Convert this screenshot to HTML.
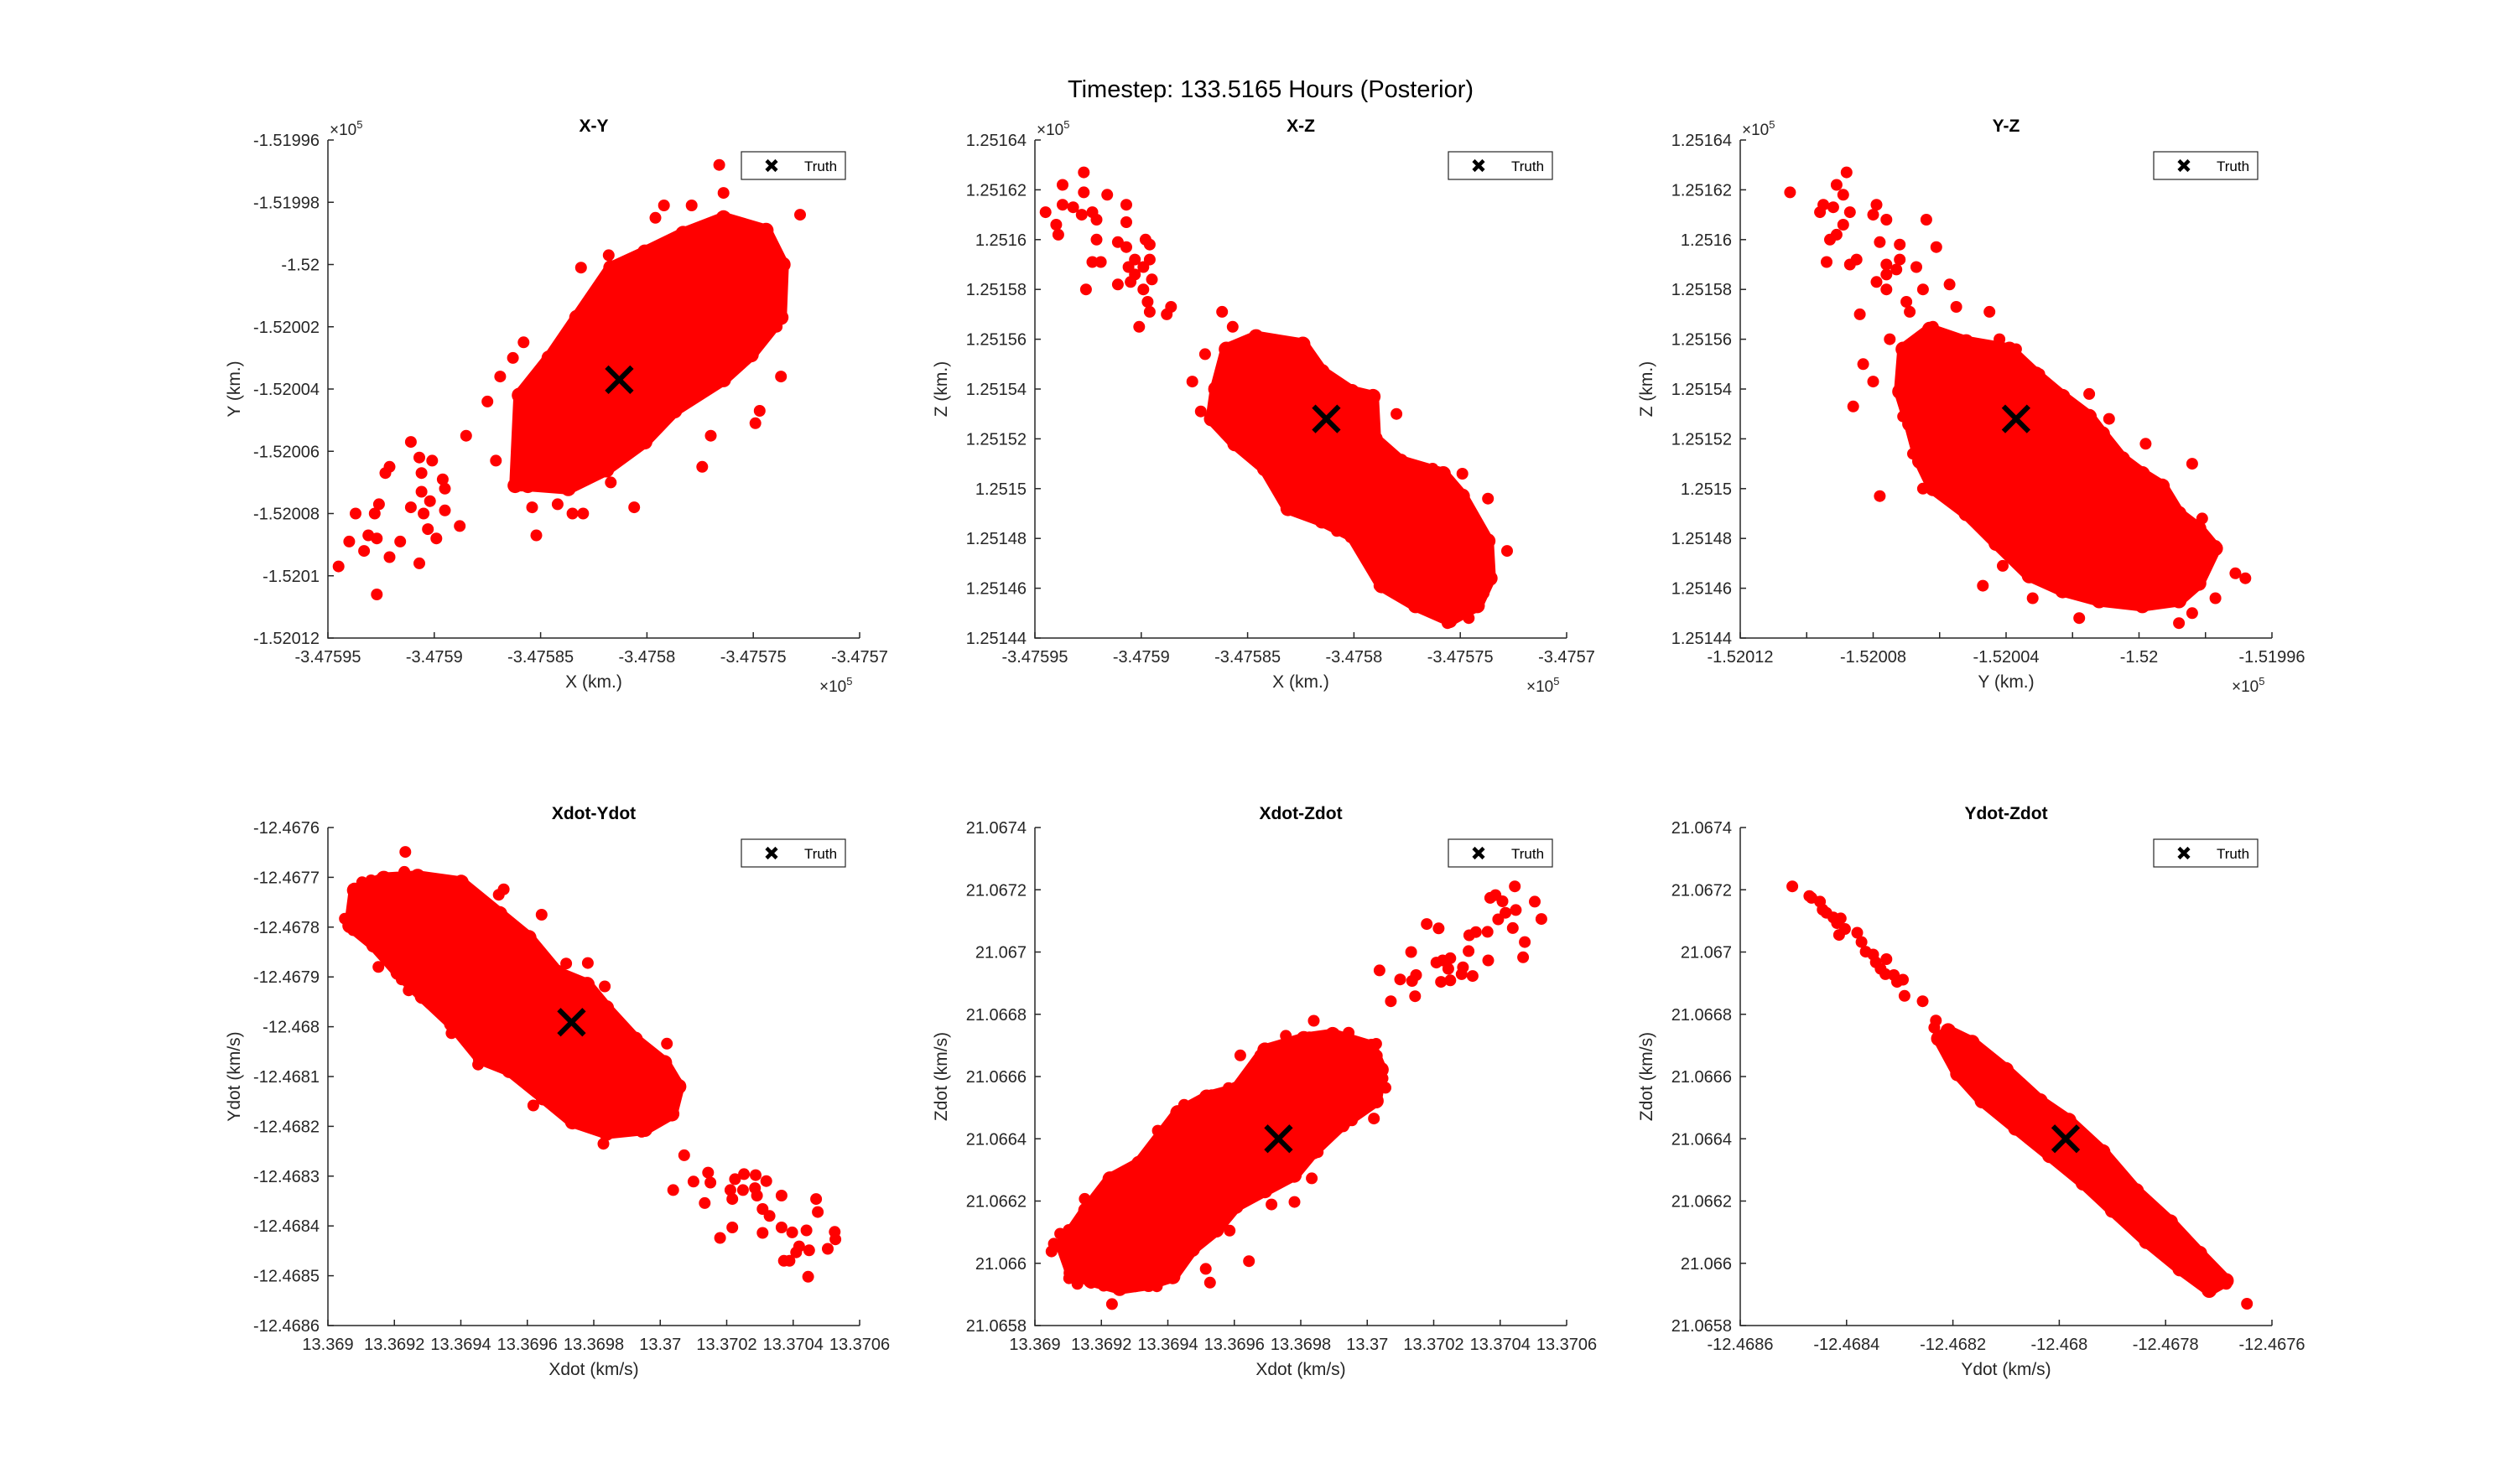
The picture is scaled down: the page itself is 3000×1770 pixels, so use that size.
<!DOCTYPE html>
<html><head><meta charset="utf-8"><title>Timestep posterior scatter</title>
<style>
html,body{margin:0;padding:0;background:#fff;}
svg{display:block;font-family:"Liberation Sans",Arial,sans-serif;}
</style></head>
<body>
<svg id="fig" width="3000" height="1770" viewBox="0 0 3000 1770" xmlns="http://www.w3.org/2000/svg">
<rect width="3000" height="1770" fill="#fff"/>
<text x="1515" y="116" font-size="29" text-anchor="middle" fill="#000">Timestep: 133.5165 Hours (Posterior)</text>
</svg>
<script>
// ---------- Plot 1: X-Y (x1e5) ----------
const p1HullX=[-3.475862,-3.475860,-3.475846,-3.475833,-3.475817,-3.475801,-3.475783,-3.475764,-3.475744,-3.475736,-3.475737,-3.475751,-3.475764,-3.475787,-3.475801,-3.475819,-3.475837,-3.475856];
const p1HullY=[-1.520071,-1.520042,-1.520030,-1.520017,-1.520001,-1.519996,-1.519990,-1.519985,-1.519989,-1.520000,-1.520017,-1.520029,-1.520037,-1.520047,-1.520057,-1.520066,-1.520072,-1.520071];
const p1X=[-3.475945,-3.475940,-3.475937,-3.475933,-3.475931,-3.475928,-3.475927,-3.475927,-3.475926,-3.475923,-3.475921,-3.475921,-3.475916,-3.475911,-3.475911,-3.475907,-3.475907,-3.475906,-3.475906,-3.475905,-3.475903,-3.475902,-3.475901,-3.475899,-3.475896,-3.475895,-3.475895,-3.475888,-3.475885,-3.475875,-3.475871,-3.475869,-3.475863,-3.475858,-3.475852,-3.475854,-3.475842,-3.475835,-3.475830,-3.475817,-3.475806,-3.475774,-3.475770,-3.475749,-3.475747,-3.475737,-3.475766,-3.475728,-3.475764,-3.475792,-3.475796,-3.475831,-3.475818,-3.475779,-3.475739,-3.475737,-3.475739];
const p1Y=[-1.520097,-1.520089,-1.520080,-1.520092,-1.520087,-1.520080,-1.520088,-1.520106,-1.520077,-1.520067,-1.520065,-1.520094,-1.520089,-1.520057,-1.520078,-1.520062,-1.520096,-1.520067,-1.520073,-1.520080,-1.520085,-1.520076,-1.520063,-1.520088,-1.520069,-1.520072,-1.520079,-1.520084,-1.520055,-1.520044,-1.520063,-1.520036,-1.520030,-1.520025,-1.520087,-1.520078,-1.520077,-1.520080,-1.520080,-1.520070,-1.520078,-1.520065,-1.520055,-1.520051,-1.520047,-1.520036,-1.519968,-1.519984,-1.519977,-1.519981,-1.519985,-1.520001,-1.519997,-1.519981,-1.519998,-1.520007,-1.520020];
const p1Truth=[-3.475813,-1.520037];
const p1XTicks=[-3.47595,-3.4759,-3.47585,-3.4758,-3.47575,-3.4757];
const p1XLabels=["-3.47595","-3.4759","-3.47585","-3.4758","-3.47575","-3.4757"];
const p1YTicks=[-1.52012,-1.5201,-1.52008,-1.52006,-1.52004,-1.52002,-1.52,-1.51998,-1.51996];
const p1YLabels=["-1.52012","-1.5201","-1.52008","-1.52006","-1.52004","-1.52002","-1.52","-1.51998","-1.51996"];

// ---------- Plot 2: X-Z (x1e5) ----------
const p2HullX=[-3.475865,-3.475860,-3.475846,-3.475824,-3.475815,-3.475801,-3.475791,-3.475790,-3.475778,-3.475758,-3.475749,-3.475737,-3.475736,-3.475742,-3.475755,-3.475771,-3.475787,-3.475801,-3.475815,-3.475831,-3.475842,-3.475856,-3.475867];
const p2HullZ=[1.251540,1.251556,1.251561,1.251558,1.251547,1.251539,1.251537,1.251520,1.251511,1.251506,1.251497,1.251479,1.251464,1.251453,1.251447,1.251453,1.251461,1.251481,1.251487,1.251492,1.251508,1.251518,1.251528];
const p2X=[-3.475945,-3.475940,-3.475939,-3.475937,-3.475937,-3.475932,-3.475927,-3.475927,-3.475928,-3.475923,-3.475921,-3.475921,-3.475916,-3.475907,-3.475907,-3.475911,-3.475907,-3.475898,-3.475896,-3.475903,-3.475906,-3.475903,-3.475899,-3.475896,-3.475895,-3.475905,-3.475911,-3.475923,-3.475919,-3.475926,-3.475899,-3.475897,-3.475896,-3.475901,-3.475888,-3.475886,-3.475862,-3.475857,-3.475870,-3.475876,-3.475872,-3.475780,-3.475728,-3.475737,-3.475749,-3.475763,-3.475746,-3.475756,-3.475788,-3.475808,-3.475824,-3.475739];
const p2Z=[1.251611,1.251606,1.251602,1.251622,1.251614,1.251613,1.251627,1.251619,1.251610,1.251611,1.251608,1.251600,1.251618,1.251614,1.251607,1.251599,1.251597,1.251600,1.251598,1.251592,1.251589,1.251586,1.251589,1.251592,1.251584,1.251583,1.251582,1.251591,1.251591,1.251580,1.251580,1.251575,1.251571,1.251565,1.251570,1.251573,1.251571,1.251565,1.251554,1.251543,1.251531,1.251530,1.251475,1.251496,1.251506,1.251508,1.251448,1.251446,1.251461,1.251483,1.251558,1.251458];
const p2Truth=[-3.475813,1.251528];
const p2XTicks=[-3.47595,-3.4759,-3.47585,-3.4758,-3.47575,-3.4757];
const p2XLabels=["-3.47595","-3.4759","-3.47585","-3.4758","-3.47575","-3.4757"];
const p2YTicks=[1.25144,1.25146,1.25148,1.2515,1.25152,1.25154,1.25156,1.25158,1.2516,1.25162,1.25164];
const p2YLabels=["1.25144","1.25146","1.25148","1.2515","1.25152","1.25154","1.25156","1.25158","1.2516","1.25162","1.25164"];

// ---------- Plot 3: Y-Z (x1e5) ----------
const p3HullY=[-1.520071,-1.520063,-1.520052,-1.520039,-1.520031,-1.520023,-1.520015,-1.520011,-1.520005,-1.519999,-1.519993,-1.519988,-1.519982,-1.519977,-1.519982,-1.519988,-1.519999,-1.520012,-1.520023,-1.520033,-1.520043,-1.520052,-1.520062,-1.520066,-1.520069,-1.520072];
const p3HullZ=[1.251556,1.251564,1.251559,1.251556,1.251546,1.251537,1.251529,1.251522,1.251512,1.251506,1.251501,1.251490,1.251484,1.251476,1.251462,1.251455,1.251453,1.251455,1.251459,1.251465,1.251478,1.251490,1.251500,1.251511,1.251526,1.251539];
const p3Y=[-1.520105,-1.520096,-1.520095,-1.520092,-1.520091,-1.520089,-1.520088,-1.520087,-1.520089,-1.520091,-1.520093,-1.520094,-1.520087,-1.520085,-1.520079,-1.520080,-1.520078,-1.520076,-1.520072,-1.520072,-1.520076,-1.520076,-1.520073,-1.520067,-1.520064,-1.520061,-1.520079,-1.520076,-1.520070,-1.520069,-1.520065,-1.520057,-1.520055,-1.520045,-1.520084,-1.520083,-1.520080,-1.520086,-1.520078,-1.520075,-1.520062,-1.520042,-1.520037,-1.520030,-1.520015,-1.520009,-1.519998,-1.519984,-1.519971,-1.519968,-1.519977,-1.519981,-1.519977,-1.519984,-1.519988,-1.520018,-1.520032,-1.520047,-1.520041,-1.520068,-1.520071,-1.520065];
const p3Z=[1.251619,1.251611,1.251614,1.251613,1.251622,1.251618,1.251627,1.251611,1.251606,1.251602,1.251600,1.251591,1.251590,1.251592,1.251614,1.251610,1.251599,1.251608,1.251598,1.251592,1.251590,1.251586,1.251588,1.251589,1.251608,1.251597,1.251583,1.251580,1.251575,1.251571,1.251580,1.251582,1.251573,1.251571,1.251570,1.251550,1.251543,1.251533,1.251497,1.251560,1.251565,1.251560,1.251556,1.251546,1.251538,1.251528,1.251518,1.251510,1.251466,1.251464,1.251477,1.251488,1.251456,1.251450,1.251446,1.251448,1.251456,1.251461,1.251469,1.251514,1.251529,1.251500];
const p3Truth=[-1.520037,1.251528];
const p3XTicks=[-1.52012,-1.5201,-1.52008,-1.52006,-1.52004,-1.52002,-1.52,-1.51998,-1.51996];
const p3XLabels=["-1.52012","","-1.52008","","-1.52004","","-1.52","","-1.51996"];
const p3YTicks=[1.25144,1.25146,1.25148,1.2515,1.25152,1.25154,1.25156,1.25158,1.2516,1.25162,1.25164];
const p3YLabels=["1.25144","1.25146","1.25148","1.2515","1.25152","1.25154","1.25156","1.25158","1.2516","1.25162","1.25164"];

// ---------- Plot 4: Xdot-Ydot ----------
const p4HullX=[13.369080,13.369168,13.369270,13.369401,13.369517,13.369605,13.369692,13.369780,13.369838,13.369925,13.370013,13.370056,13.370035,13.369954,13.369838,13.369736,13.369648,13.369546,13.369459,13.369372,13.369284,13.369211,13.369138,13.369066];
const p4HullY=[-12.467726,-12.467702,-12.467698,-12.467710,-12.467773,-12.467821,-12.467891,-12.467915,-12.467962,-12.468025,-12.468072,-12.468120,-12.468175,-12.468206,-12.468214,-12.468191,-12.468143,-12.468088,-12.468065,-12.467994,-12.467939,-12.467891,-12.467836,-12.467797];
const p4X=[13.369233,13.369230,13.369051,13.369076,13.369103,13.369130,13.369152,13.369175,13.369207,13.369222,13.369243,13.369322,13.369372,13.369452,13.369514,13.369529,13.369643,13.369717,13.369782,13.369833,13.369618,13.370020,13.370049,13.370030,13.369981,13.369944,13.369829,13.370072,13.370039,13.370100,13.370134,13.370144,13.370151,13.370211,13.370217,13.370225,13.370252,13.370249,13.370287,13.370285,13.370291,13.370319,13.370308,13.370329,13.370308,13.370217,13.370180,13.370365,13.370397,13.370365,13.370372,13.370389,13.370409,13.370418,13.370440,13.370448,13.370445,13.370469,13.370474,13.370504,13.370525,13.370527];
const p4Y=[-12.467649,-12.467689,-12.467783,-12.467806,-12.467710,-12.467706,-12.467880,-12.467862,-12.467884,-12.467905,-12.467927,-12.467949,-12.468013,-12.468076,-12.467735,-12.467724,-12.467775,-12.467873,-12.467872,-12.467919,-12.468158,-12.468034,-12.468112,-12.468157,-12.468193,-12.468211,-12.468235,-12.468258,-12.468328,-12.468311,-12.468354,-12.468293,-12.468313,-12.468328,-12.468346,-12.468306,-12.468296,-12.468328,-12.468298,-12.468324,-12.468339,-12.468310,-12.468366,-12.468380,-12.468414,-12.468403,-12.468424,-12.468339,-12.468413,-12.468403,-12.468470,-12.468470,-12.468453,-12.468441,-12.468409,-12.468449,-12.468502,-12.468346,-12.468372,-12.468446,-12.468412,-12.468427];
const p4Truth=[13.369733,-12.467991];
const p4XTicks=[13.369,13.3692,13.3694,13.3696,13.3698,13.37,13.3702,13.3704,13.3706];
const p4XLabels=["13.369","13.3692","13.3694","13.3696","13.3698","13.37","13.3702","13.3704","13.3706"];
const p4YTicks=[-12.4686,-12.4685,-12.4684,-12.4683,-12.4682,-12.4681,-12.468,-12.4679,-12.4678,-12.4677,-12.4676];
const p4YLabels=["-12.4686","-12.4685","-12.4684","-12.4683","-12.4682","-12.4681","-12.468","-12.4679","-12.4678","-12.4677","-12.4676"];

// ---------- Plot 5: Xdot-Zdot ----------
const p5HullX=[13.369080,13.369153,13.369226,13.369313,13.369430,13.369517,13.369605,13.369692,13.369809,13.369896,13.370013,13.370042,13.370027,13.369925,13.369838,13.369780,13.369692,13.369605,13.369546,13.369474,13.369415,13.369342,13.369255,13.369168,13.369109];
const p5HullZ=[21.066057,21.066170,21.066271,21.066321,21.066484,21.066534,21.066559,21.066685,21.066722,21.066735,21.066697,21.066622,21.066522,21.066446,21.066358,21.066283,21.066233,21.066183,21.066107,21.066045,21.065957,21.065932,21.065919,21.065944,21.065969];
const p5X=[13.369050,13.369057,13.369076,13.369102,13.369103,13.369128,13.369135,13.369150,13.369173,13.369214,13.369240,13.369267,13.369302,13.369319,13.369370,13.369398,13.369449,13.369479,13.369532,13.369583,13.369618,13.369678,13.369755,13.369826,13.369839,13.369944,13.370027,13.370029,13.370055,13.370046,13.370020,13.369954,13.369928,13.369893,13.369864,13.369851,13.369833,13.369781,13.369712,13.369644,13.369527,13.369514,13.369586,13.369417,13.369367,13.369303,13.369265,13.369232,13.369207,13.369169,13.370037,13.370071,13.370099,13.370132,13.370135,13.370147,13.370144,13.370179,13.370215,13.370208,13.370227,13.370250,13.370222,13.370250,13.370244,13.370284,13.370288,13.370317,13.370305,13.370307,13.370327,13.370362,13.370364,13.370370,13.370386,13.370394,13.370407,13.370416,13.370438,13.370444,13.370447,13.370469,13.370474,13.370504,13.370524];
const p5Z=[21.066038,21.066063,21.066095,21.066107,21.065952,21.065934,21.066139,21.066207,21.066170,21.066239,21.066274,21.066271,21.066271,21.066327,21.066426,21.066367,21.066509,21.066503,21.066540,21.066563,21.066668,21.066668,21.066731,21.066726,21.066779,21.066741,21.066705,21.066667,21.066564,21.066594,21.066465,21.066459,21.066440,21.066419,21.066392,21.066357,21.066273,21.066197,21.066189,21.066007,21.065938,21.065982,21.066105,21.065957,21.065926,21.065926,21.065922,21.065869,21.065928,21.065937,21.066941,21.066842,21.066912,21.067000,21.066907,21.066926,21.066858,21.067090,21.067076,21.066966,21.066973,21.066980,21.066904,21.066909,21.066946,21.066929,21.066951,21.066923,21.067003,21.067054,21.067064,21.067065,21.066973,21.067174,21.067183,21.067105,21.067163,21.067126,21.067077,21.067211,21.067135,21.066983,21.067032,21.067162,21.067106];
const p5Truth=[13.369733,21.066400];
const p5XTicks=[13.369,13.3692,13.3694,13.3696,13.3698,13.37,13.3702,13.3704,13.3706];
const p5XLabels=["13.369","13.3692","13.3694","13.3696","13.3698","13.37","13.3702","13.3704","13.3706"];
const p5YTicks=[21.0658,21.066,21.0662,21.0664,21.0666,21.0668,21.067,21.0672,21.0674];
const p5YLabels=["21.0658","21.066","21.0662","21.0664","21.0666","21.0668","21.067","21.0672","21.0674"];

// ---------- Plot 6: Ydot-Zdot ----------
const p6HullX=[-12.468209,-12.468164,-12.468100,-12.468036,-12.467982,-12.467918,-12.467855,-12.467791,-12.467736,-12.467686,-12.467718,-12.467773,-12.467836,-12.467900,-12.467955,-12.468018,-12.468082,-12.468145,-12.468191,-12.468227];
const p6HullZ=[21.066747,21.066710,21.066622,21.066522,21.066459,21.066358,21.066233,21.066133,21.066032,21.065944,21.065913,21.065982,21.066070,21.066170,21.066258,21.066346,21.066434,21.066522,21.066609,21.066722];
const p6X=[-12.468502,-12.468470,-12.468466,-12.468450,-12.468445,-12.468438,-12.468425,-12.468411,-12.468418,-12.468403,-12.468414,-12.468380,-12.468372,-12.468364,-12.468350,-12.468345,-12.468325,-12.468336,-12.468327,-12.468311,-12.468294,-12.468305,-12.468291,-12.468257,-12.468232,-12.468235,-12.468220,-12.468016,-12.467647,-12.467686];
const p6Z=[21.067211,21.067180,21.067174,21.067162,21.067136,21.067126,21.067111,21.067108,21.067093,21.067074,21.067055,21.067062,21.067032,21.067001,21.066992,21.066967,21.066977,21.066946,21.066929,21.066926,21.066911,21.066904,21.066859,21.066842,21.066780,21.066757,21.066726,21.066350,21.065870,21.065934];
const p6Truth=[-12.467988,21.066400];
const p6XTicks=[-12.4686,-12.4684,-12.4682,-12.468,-12.4678,-12.4676];
const p6XLabels=["-12.4686","-12.4684","-12.4682","-12.468","-12.4678","-12.4676"];
const p6YTicks=[21.0658,21.066,21.0662,21.0664,21.0666,21.0668,21.067,21.0672,21.0674];
const p6YLabels=["21.0658","21.066","21.0662","21.0664","21.0666","21.0668","21.067","21.0672","21.0674"];

const NS='http://www.w3.org/2000/svg';
const svg=document.getElementById('fig');
function mk(tag,attrs,parent){const e=document.createElementNS(NS,tag);for(const k in attrs)e.setAttribute(k,attrs[k]);(parent||svg).appendChild(e);return e;}

const plots=[
 {key:'x-y',title:'X-Y',left:391,top:167,xl:'X (km.)',yl:'Y (km.)',exp:true,xr:[-3.47595,-3.4757],yr:[-1.52012,-1.51996],hx:p1HullX,hy:p1HullY,px:p1X,py:p1Y,t:p1Truth,xt:p1XTicks,xtl:p1XLabels,yt:p1YTicks,ytl:p1YLabels},
 {key:'x-z',title:'X-Z',left:1234,top:167,xl:'X (km.)',yl:'Z (km.)',exp:true,xr:[-3.47595,-3.4757],yr:[1.25144,1.25164],hx:p2HullX,hy:p2HullZ,px:p2X,py:p2Z,t:p2Truth,xt:p2XTicks,xtl:p2XLabels,yt:p2YTicks,ytl:p2YLabels},
 {key:'y-z',title:'Y-Z',left:2075,top:167,xl:'Y (km.)',yl:'Z (km.)',exp:true,xr:[-1.52012,-1.51996],yr:[1.25144,1.25164],hx:p3HullY,hy:p3HullZ,px:p3Y,py:p3Z,t:p3Truth,xt:p3XTicks,xtl:p3XLabels,yt:p3YTicks,ytl:p3YLabels},
 {key:'xdot-ydot',title:'Xdot-Ydot',left:391,top:987,xl:'Xdot (km/s)',yl:'Ydot (km/s)',exp:false,xr:[13.369,13.3706],yr:[-12.4686,-12.4676],hx:p4HullX,hy:p4HullY,px:p4X,py:p4Y,t:p4Truth,xt:p4XTicks,xtl:p4XLabels,yt:p4YTicks,ytl:p4YLabels},
 {key:'xdot-zdot',title:'Xdot-Zdot',left:1234,top:987,xl:'Xdot (km/s)',yl:'Zdot (km/s)',exp:false,xr:[13.369,13.3706],yr:[21.0658,21.0674],hx:p5HullX,hy:p5HullZ,px:p5X,py:p5Z,t:p5Truth,xt:p5XTicks,xtl:p5XLabels,yt:p5YTicks,ytl:p5YLabels},
 {key:'ydot-zdot',title:'Ydot-Zdot',left:2075,top:987,xl:'Ydot (km/s)',yl:'Zdot (km/s)',exp:false,xr:[-12.4686,-12.4676],yr:[21.0658,21.0674],hx:p6HullX,hy:p6HullZ,px:p6X,py:p6Z,t:p6Truth,xt:p6XTicks,xtl:p6XLabels,yt:p6YTicks,ytl:p6YLabels}
];
const W=634,H=594,AX='#262626',R=7;

plots.forEach(p=>{
  const g=mk('g',{});
  
  
  const sx=v=>p.left+(v-p.xr[0])/(p.xr[1]-p.xr[0])*W;
  const sy=v=>p.top+H-(v-p.yr[0])/(p.yr[1]-p.yr[0])*H;
  const cid='clip-'+p.key;
  const cp=mk('clipPath',{id:cid},g);
  mk('rect',{x:p.left,y:p.top,width:W,height:H},cp);
  const dg=mk('g',{'clip-path':'url(#'+cid+')'},g);
  const pts=p.hx.map((v,i)=>sx(v).toFixed(1)+','+sy(p.hy[i]).toFixed(1)).join(' ');
  const core=mk('polygon',{points:pts,fill:'#ff0000',stroke:'#ff0000','stroke-width':14,'stroke-linejoin':'round'},dg);
  
  
  p.hx.forEach((v,i)=>{
    const c=mk('circle',{cx:sx(v).toFixed(1),cy:sy(p.hy[i]).toFixed(1),r:R+2,fill:'#ff0000'},dg);
    
    
  });
  p.px.forEach((v,i)=>{
    const c=mk('circle',{cx:sx(v).toFixed(1),cy:sy(p.py[i]).toFixed(1),r:R,fill:'#ff0000'},dg);
    
    
  });
  const tx=sx(p.t[0]),ty=sy(p.t[1]);
  const tm=mk('path',{d:`M${tx-15},${ty-15}L${tx+15},${ty+15}M${tx-15},${ty+15}L${tx+15},${ty-15}`,stroke:'#000','stroke-width':6},dg);
  
  
  const ax=mk('path',{d:`M${p.left},${p.top}V${p.top+H}H${p.left+W}`,stroke:AX,'stroke-width':1.5,fill:'none'},g);
  
  
  p.xt.forEach((v,i)=>{
    const x=sx(v);
    mk('line',{x1:x,y1:p.top+H,x2:x,y2:p.top+H-7,stroke:AX,'stroke-width':1.5},g);
    if(p.xtl[i]){
      const t=mk('text',{x:x,y:p.top+H+29,'font-size':20,'text-anchor':'middle',fill:AX},g);
      t.textContent=p.xtl[i];
      
      
    }
  });
  p.yt.forEach((v,i)=>{
    const y=sy(v);
    mk('line',{x1:p.left,y1:y,x2:p.left+7,y2:y,stroke:AX,'stroke-width':1.5},g);
    const t=mk('text',{x:p.left-10,y:y+7,'font-size':20,'text-anchor':'end',fill:AX},g);
    t.textContent=p.ytl[i];
    
    
  });
  const tt=mk('text',{x:p.left+W/2,y:p.top-10,'font-size':21,'font-weight':'bold','text-anchor':'middle',fill:'#000'},g);
  tt.textContent=p.title;
  
  
  const xl=mk('text',{x:p.left+W/2,y:p.top+H+59,'font-size':21,'text-anchor':'middle',fill:AX},g);
  xl.textContent=p.xl;
  
  
  const yx=p.left-105,yy=p.top+H/2;
  const yl=mk('text',{x:yx,y:yy,'font-size':21,'text-anchor':'middle',fill:AX,transform:`rotate(-90 ${yx} ${yy})`},g);
  yl.textContent=p.yl;
  
  
  if(p.exp){
    const e1=mk('text',{x:p.left+2,y:p.top-6,'font-size':19,fill:AX},g);
    e1.innerHTML='×10<tspan dy="-8" font-size="13">5</tspan>';
    
    
    const e2=mk('text',{x:p.left+W-48,y:p.top+H+64,'font-size':19,fill:AX},g);
    e2.innerHTML='×10<tspan dy="-8" font-size="13">5</tspan>';
    
    
  }
  const lg=mk('g',{},g);
  
  
  const lx=p.left+W-141,ly=p.top+14;
  mk('rect',{x:lx,y:ly,width:124,height:33,fill:'#fff',stroke:AX,'stroke-width':1.2},lg);
  const mx=lx+36,my=ly+16.5;
  const lm=mk('path',{d:`M${mx-6},${my-6}L${mx+6},${my+6}M${mx-6},${my+6}L${mx+6},${my-6}`,stroke:'#000','stroke-width':4.5},lg);
  
  
  const lt=mk('text',{x:lx+75,y:ly+23,'font-size':17,fill:'#000'},lg);
  lt.textContent='Truth';
  
  
});
</script>
</body></html>
